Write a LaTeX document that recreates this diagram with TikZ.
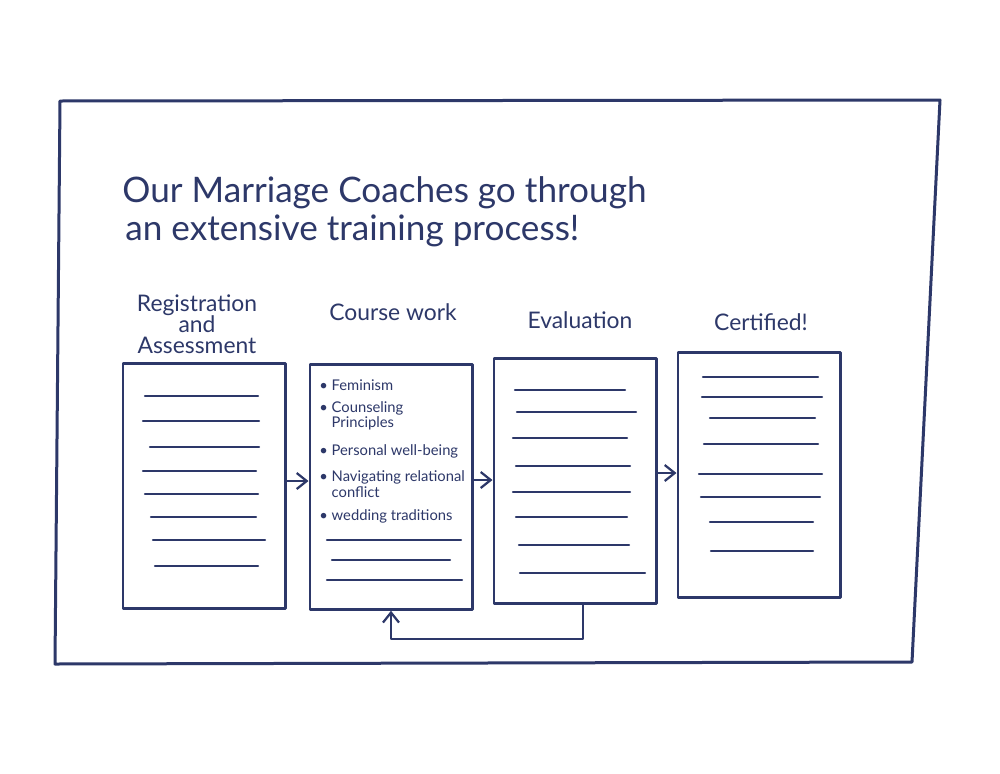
\documentclass[tikz,border=0pt]{standalone}
\usepackage{fontspec}
\setmainfont{Lato}
\usetikzlibrary{arrows.meta}
\definecolor{ink}{RGB}{45,56,105}
\begin{document}
\begin{tikzpicture}[x=0.2mm, y=-0.2mm, ink, line cap=round, line join=round,
    card/.style={draw, line width=0.5mm, minimum width=32.5mm, minimum height=49mm, inner sep=0pt},
    head/.style={font=\fontsize{13}{15}\selectfont, align=center},
    item/.style={font=\fontsize{8.4}{9.8}\selectfont, anchor=west, align=left, inner sep=0pt},
    arr/.style={-{Straight Barb[length=2mm, width=3.2mm]}, line width=0.45mm},
  ]
  \useasboundingbox (0,0) rectangle (1000,773);
  \fill[white] (0,0) rectangle (1000,773);
  \draw[line width=0.6mm] (60,101) -- (940,100) -- (912,662) -- (55,664) -- cycle;
  \node[anchor=base west, inner sep=0pt, font=\fontsize{20}{23}\selectfont] (title1) at (122,202) {Our Marriage Coaches go through};
  \node[anchor=base west, inner sep=0pt, font=\fontsize{20}{23}\selectfont] (title2) at (125,240) {an extensive training process!};

  \node[head] (hreg) at (197,324) {Registration\\[-3pt]and\\[-3pt]Assessment};
  \node[head] (hcourse) at (393,312) {Course work};
  \node[head] (heval) at (580,320) {Evaluation};
  \node[head] (hcert) at (761,322) {Certified!};

  \node[card] (reg) at (204,486) {};
  \node[card] (course) at (391,487) {};
  \node[card] (eval) at (575,481) {};
  \node[card] (cert) at (759,475) {};

  \node[item] (it1) at (319,385) {\textbullet\ Feminism};
  \node[item] (it2) at (319,416) {\textbullet\ Counseling\\[-1pt]\phantom{\textbullet\ }Principles};
  \node[item] (it3) at (319,451) {\textbullet\ Personal well-being};
  \node[item] (it4) at (319,484) {\textbullet\ Navigating relational\\[-1pt]\phantom{\textbullet\ }conflict};
  \node[item] (it5) at (319,516) {\textbullet\ wedding traditions};

  \foreach \y/\a/\b in {396/145/258, 421/143/259, 447/150/259, 471/143/256, 494/145/258, 517/151/256, 540/153/265, 566/155/258,
      540/327/461, 560/332/450, 580/327/462,
      390/515/625, 412/517/636, 438/513/627, 466/516/630, 492/513/630, 517/516/627, 545/519/629, 573/520/645,
      377/703/818, 397/702/822, 418/710/815, 444/704/818, 474/699/822, 497/701/820, 522/710/813, 551/711/813}
    \draw[line width=0.45mm] (\a,\y) -- (\b,\y);

  \draw[arr] ([yshift=1mm]reg.east) -- ([yshift=1mm]reg.east -| course.west);
  \draw[arr] ([yshift=1.4mm]course.east) -- ([yshift=1.4mm]course.east -| eval.west);
  \draw[arr] ([yshift=1.6mm]eval.east) -- ([yshift=1.6mm]eval.east -| cert.west);
  \draw[arr] ([xshift=1.6mm]eval.south) -- ++(0,34) -| (course.south);
\end{tikzpicture}
\end{document}
